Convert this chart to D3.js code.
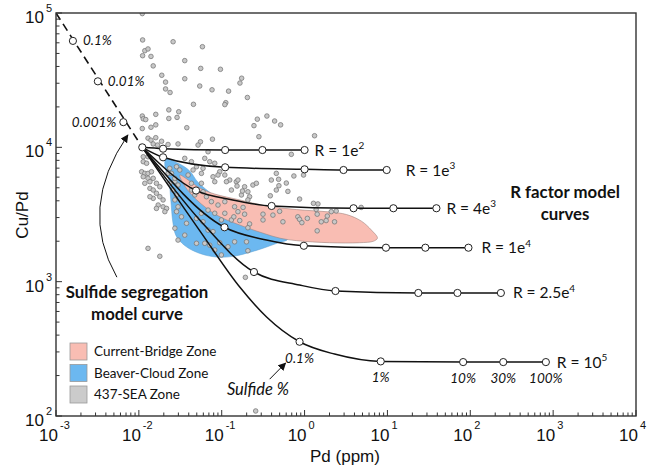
<!DOCTYPE html>
<html>
<head>
<meta charset="utf-8">
<script src="https://cdn.jsdelivr.net/npm/d3@7"></script>
<style>
body { margin: 0; background: #fff; }
text { fill: #111; }
</style>
</head>
<body>
<div id="chart"></div>
<script>
// ---- data ----
const origin = [0.011, 10000];

// sulfide segregation model (dashed part)
const segLine = [[0.001, 100000], [0.011, 10000]];
const segMarks = [[0.0016, 62000], [0.0032, 31000], [0.0065, 15400]];
const segLabels = ["0.1%", "0.01%", "0.001%"];

// R factor curves
const rBase = ["1e", "1e", "4e", "1e", "2.5e", "10"];
const rExp = ["2", "3", "3", "4", "4", "5"];
const rMarks = [
    [[0.0196, 9770], [0.11, 9550], [0.31, 9550], [1.0, 9550]],
    [[0.0196, 8430], [0.11, 7100], [1.0, 6860], [2.95, 6780], [9.8, 6780]],
    [[0.049, 4770], [0.40, 3660], [3.9, 3520], [11.8, 3520], [39, 3520]],
    [[0.108, 2540], [0.98, 1850], [9.6, 1790], [28.7, 1790], [95, 1790]],
    [[0.245, 1180], [2.36, 852], [23.6, 824], [70, 824], [234, 824]],
    [[0.87, 357], [8.3, 255], [82, 252], [250, 252], [817, 252]]
];
const rBends = [
    [],
    [],
    [[0.136, 4060]],
    [[0.346, 2040]],
    [[0.0543, 2880], [0.871, 944]],
    [[0.0569, 2300], [0.165, 912], [0.348, 546], [2.30, 289]]
];
const sulfideLabels = ["0.1%", "1%", "10%", "30%", "100%"];

// zone outlines
const currentBridge = [
    [0.0312, 6220], [0.0411, 5610], [0.0543, 4980], [0.0824, 4490], [0.165, 4060],
    [0.348, 3660], [0.801, 3440], [2.00, 3300], [3.21, 3160], [4.86, 2820],
    [6.41, 2420], [7.58, 2110], [6.78, 2000], [4.60, 1950], [2.00, 1950],
    [0.801, 2020], [0.500, 2110], [0.312, 2300], [0.165, 2640], [0.0871, 3130],
    [0.0500, 4060], [0.0358, 5150]
];
const beaverCloud = [
    [0.0212, 8190], [0.0295, 7640], [0.0411, 6670], [0.0514, 5520], [0.0824, 4340],
    [0.165, 3300], [0.330, 2590], [0.624, 2070], [0.473, 1940], [0.330, 1790],
    [0.217, 1650], [0.143, 1550], [0.0946, 1520], [0.0624, 1580], [0.0435, 1720],
    [0.0330, 1940], [0.0279, 2220], [0.0257, 2780], [0.0243, 4060], [0.0230, 5710],
    [0.0206, 7260]
];

// samples (Pd ppm, Cu/Pd)
const samples = [
    [0.011, 99000], [0.0111, 63000], [0.0259, 61100], [0.0585, 56100], [0.0118, 52400],
    [0.0129, 54000], [0.0111, 48100], [0.014, 47500], [0.0358, 44200], [0.0149, 40400],
    [0.0558, 38700], [0.0965, 38100], [0.0189, 34400], [0.0358, 32400], [0.174, 32700],
    [0.021, 30600], [0.166, 30100], [0.0543, 28600], [0.021, 27200], [0.0238, 25600],
    [0.0764, 26800], [0.121, 26200], [0.204, 23500], [0.0456, 20900], [0.112, 21500],
    [0.109, 20800], [0.023, 19000], [0.0303, 18400], [0.016, 17600], [0.011, 17100],
    [0.0113, 16300], [0.0121, 16100], [0.023, 16400], [0.0289, 16700], [0.351, 17100],
    [0.269, 16200], [0.435, 15700], [0.514, 14700], [0.245, 14500], [0.016, 14700],
    [0.014, 14100], [0.011, 13800], [0.0379, 14000], [0.281, 12000], [0.0129, 11700],
    [0.014, 11300], [0.016, 11800], [0.0188, 11100], [0.0149, 10600], [0.0168, 10400],
    [0.0225, 10500], [0.0297, 10600], [0.0554, 11000], [0.0518, 10400], [0.0773, 11500],
    [0.692, 8870], [1.32, 12200],
    [0.0113, 8510], [0.0129, 8510], [0.0113, 7820], [0.0124, 7610], [0.0108, 6580],
    [0.0118, 6400], [0.0129, 6400], [0.0142, 6580], [0.0113, 6040], [0.0129, 5880],
    [0.0149, 5880], [0.0136, 5550], [0.0118, 5400], [0.0163, 5400], [0.0179, 5090],
    [0.0136, 4950], [0.0149, 4810], [0.0163, 4550], [0.0149, 4170], [0.0179, 4290],
    [0.0196, 4060], [0.0171, 3720], [0.0196, 3610], [0.0216, 3510], [0.0206, 3320],
    [0.0129, 1770], [0.0179, 1545], [0.0136, 4290], [0.0163, 3510],
    [0.0684, 9270], [0.0358, 8280], [0.0624, 8280], [0.0431, 7820], [0.0717, 7820],
    [0.0824, 7610], [0.0496, 7170], [0.0595, 6980], [0.0946, 6580], [0.109, 6220],
    [0.125, 5710], [0.0824, 5550], [0.0569, 6400], [0.0785, 6040], [0.114, 5550],
    [0.150, 5550], [0.189, 5090], [0.238, 5240], [0.262, 5400], [0.207, 4670],
    [0.173, 4420], [0.0451, 6780], [0.0393, 6220], [0.0285, 7170], [0.0312, 6780],
    [0.0236, 6980], [0.0225, 6400], [0.0272, 5550], [0.0297, 5240], [0.0431, 5400],
    [0.0569, 5400], [0.0595, 4670], [0.0431, 4810], [0.0902, 6220], [0.157, 5710],
    [0.131, 4810], [0.486, 5780], [0.490, 5180], [0.153, 5150], [0.178, 4730],
    [0.456, 4810], [0.386, 4360], [0.629, 4700], [0.217, 4290], [0.207, 4060],
    [0.871, 4120], [1.28, 3830], [1.45, 3790], [4.82, 3570], [0.972, 6220],
    [0.743, 6120], [0.602, 5420], [0.397, 5710], [0.456, 6400],
    [0.0473, 4420], [0.0654, 4290], [0.0751, 3940], [0.0902, 3720], [0.109, 3940],
    [0.143, 3610], [0.109, 3230], [0.131, 2880], [0.157, 3320], [0.0824, 3230],
    [0.0991, 2880], [0.0684, 3410], [0.0569, 3230], [0.181, 3570], [0.189, 3180],
    [0.500, 3340], [0.315, 3180], [0.415, 3130], [0.140, 3040], [0.165, 2850],
    [0.217, 2690], [0.207, 2520], [0.315, 2880], [0.548, 2790], [0.830, 3040],
    [0.871, 2910], [1.08, 2960], [1.42, 3180], [1.59, 2790], [1.88, 3080],
    [1.82, 2850], [2.10, 3320], [2.41, 3360], [2.30, 2790], [1.42, 2390],
    [1.38, 3450], [0.928, 2750],
    [0.0248, 6400], [0.0272, 5880], [0.0236, 5400], [0.0259, 4810], [0.0285, 4420],
    [0.0272, 4060], [0.0297, 3610], [0.0285, 3320], [0.0327, 3040], [0.0376, 2720],
    [0.0272, 2500], [0.0496, 2960], [0.0595, 2790], [0.0684, 2420], [0.0297, 2040],
    [0.0358, 2220], [0.0496, 1930], [0.0624, 1930], [0.0824, 1720], [0.119, 1820],
    [0.143, 1980], [0.0991, 1580], [0.0785, 2360], [0.0946, 1950], [0.0717, 1870],
    [0.199, 1980], [0.207, 1700],
    [0.257, 109], [0.193, 1077]
];

// axes
const xTickExp = ["-3", "-2", "-1", "0", "1", "2", "3", "4"];
const yTickExp = ["2", "3", "4", "5"];

const legendNames = ["Current-Bridge Zone", "Beaver-Cloud Zone", "437-SEA Zone"];
const legendColors = ["#f9bdb3", "#6cb8f0", "#cbcbcb"];

// annotation anchors (data space)
const segArrow = [[0.00543, 1080], [0.00182, 3530], [0.00737, 12350]];
const pctArrow = [[0.379, 188], [0.590, 248]];

// ---- drawing ----
const width = 649, height = 468;
const calibri = "Lato, 'Open Sans', sans-serif";
const arial = "'Liberation Sans', Arial, sans-serif";

const x = d3.scaleLog().domain([1e-3, 1e4]).range([56, 636]);
const y = d3.scaleLog().domain([1e2, 1e5]).range([416, 13]);

const svg = d3.select("#chart")
    .append("svg")
    .attr("width", width)
    .attr("height", height);

const defs = svg.append("defs");
defs.append("marker")
    .attr("id", "head")
    .attr("viewBox", "0 0 10 10")
    .attr("refX", 9).attr("refY", 5)
    .attr("markerWidth", 8).attr("markerHeight", 8)
    .attr("markerUnits", "userSpaceOnUse")
    .attr("orient", "auto")
    .append("path")
    .attr("d", "M0,0L10,5L0,10z")
    .attr("fill", "#111");

svg.append("clipPath").attr("id", "plot")
    .append("rect")
    .attr("x", 56).attr("y", 13)
    .attr("width", 580).attr("height", 403);

const line = d3.line().x(d => x(d[0])).y(d => y(d[1]));
const smooth = d3.line().x(d => x(d[0])).y(d => y(d[1])).curve(d3.curveMonotoneX);
const blob = d3.line().x(d => x(d[0])).y(d => y(d[1])).curve(d3.curveCatmullRomClosed.alpha(0.5));

const plot = svg.append("g").attr("clip-path", "url(#plot)");

// zones
plot.append("path")
    .datum(beaverCloud)
    .attr("d", blob)
    .attr("fill", "#6cb8f0")
    .attr("stroke", "#5a9fd0")
    .attr("stroke-width", 0.5);

plot.append("path")
    .datum(currentBridge)
    .attr("d", blob)
    .attr("fill", "#f9bdb3")
    .attr("stroke", "#a08580")
    .attr("stroke-width", 0.6);

// samples
plot.append("g")
    .selectAll("circle")
    .data(samples)
    .join("circle")
    .attr("cx", d => x(d[0]))
    .attr("cy", d => y(d[1]))
    .attr("r", 2.3)
    .attr("fill", "#c8c8c8")
    .attr("stroke", "#7a7a7a")
    .attr("stroke-width", 0.8);

// R factor curves
rMarks.forEach((marks, i) => {
    const pts = [origin].concat(rBends[i], marks).sort((a, b) => a[0] - b[0]);
    plot.append("path")
        .datum(pts)
        .attr("d", smooth)
        .attr("fill", "none")
        .attr("stroke", "#111")
        .attr("stroke-width", 1.5);
});

// dashed segregation line
plot.append("path")
    .datum(segLine)
    .attr("d", line)
    .attr("fill", "none")
    .attr("stroke", "#111")
    .attr("stroke-width", 1.6)
    .attr("stroke-dasharray", "8,5");

// open markers
const allMarks = [origin].concat(segMarks, ...rMarks);
svg.append("g")
    .selectAll("circle")
    .data(allMarks)
    .join("circle")
    .attr("cx", d => x(d[0]))
    .attr("cy", d => y(d[1]))
    .attr("r", 3.6)
    .attr("fill", "#fff")
    .attr("stroke", "#222")
    .attr("stroke-width", 1);

// frame
svg.append("rect")
    .attr("x", 56).attr("y", 13)
    .attr("width", 580).attr("height", 403)
    .attr("fill", "none")
    .attr("stroke", "#333")
    .attr("stroke-width", 1.4);

// ticks (inward)
const isMajor = v => Math.abs(Math.log10(v) - Math.round(Math.log10(v))) < 1e-6;
svg.append("g")
    .selectAll("line")
    .data(x.ticks())
    .join("line")
    .attr("x1", d => x(d)).attr("x2", d => x(d))
    .attr("y1", 416).attr("y2", d => 416 - (isMajor(d) ? 6 : 3.5))
    .attr("stroke", "#333").attr("stroke-width", 1);

svg.append("g")
    .selectAll("line")
    .data(y.ticks())
    .join("line")
    .attr("y1", d => y(d)).attr("y2", d => y(d))
    .attr("x1", 56).attr("x2", d => 56 + (isMajor(d) ? 6 : 3.5))
    .attr("stroke", "#333").attr("stroke-width", 1);

// tick labels
const xt = svg.append("g").style("font-family", arial);
xTickExp.forEach(e => {
    const px = x(Math.pow(10, +e));
    xt.append("text").attr("x", px + 2).attr("y", 441)
        .attr("text-anchor", "end").style("font-size", "17px").text("10");
    xt.append("text").attr("x", px + 4).attr("y", 429)
        .style("font-size", "11px").text(e);
});
const yt = svg.append("g").style("font-family", arial);
yTickExp.forEach(e => {
    const py = y(Math.pow(10, +e));
    yt.append("text").attr("x", 44).attr("y", py + 10)
        .attr("text-anchor", "end").style("font-size", "17px").text("10");
    yt.append("text").attr("x", 46).attr("y", py - 1)
        .style("font-size", "11px").text(e);
});

// axis titles
svg.append("text")
    .attr("x", 345).attr("y", 462)
    .attr("text-anchor", "middle")
    .style("font-family", arial).style("font-size", "17px")
    .text("Pd (ppm)");
svg.append("text")
    .attr("transform", "translate(28,215) rotate(-90)")
    .attr("text-anchor", "middle")
    .style("font-family", arial).style("font-size", "17px")
    .text("Cu/Pd");

// labels on the dashed line
const segDx = [10, 10, -7];
segMarks.forEach((d, i) => {
    svg.append("text")
        .attr("x", x(d[0]) + segDx[i])
        .attr("y", y(d[1]) + 4.5)
        .attr("text-anchor", i === 2 ? "end" : "start")
        .style("font-family", calibri).style("font-style", "italic")
        .style("font-size", "13.5px")
        .text(segLabels[i]);
});

// R labels
const rGap = [10, 19, 10, 13, 12, 11];
rMarks.forEach((marks, i) => {
    const last = marks[marks.length - 1];
    const t = svg.append("text")
        .attr("x", x(last[0]) + rGap[i])
        .attr("y", y(last[1]) + 5.5)
        .style("font-family", calibri).style("font-size", "15.5px")
        .text("R = " + rBase[i]);
    t.append("tspan").attr("dy", -6.5).style("font-size", "10px").text(rExp[i]);
});

// sulfide % labels along R = 10^5
rMarks[5].forEach((d, i) => {
    svg.append("text")
        .attr("x", x(d[0]))
        .attr("y", y(d[1]) + 21)
        .attr("text-anchor", "middle")
        .style("font-family", calibri).style("font-style", "italic")
        .style("font-size", "13.5px")
        .text(sulfideLabels[i]);
});

// arrows
const curveArrow = d3.path();
curveArrow.moveTo(x(segArrow[0][0]), y(segArrow[0][1]));
curveArrow.quadraticCurveTo(x(segArrow[1][0]), y(segArrow[1][1]), x(segArrow[2][0]), y(segArrow[2][1]));
svg.append("path")
    .attr("d", curveArrow.toString())
    .attr("fill", "none").attr("stroke", "#111").attr("stroke-width", 1)
    .attr("marker-end", "url(#head)");

svg.append("path")
    .datum(pctArrow)
    .attr("d", line)
    .attr("stroke", "#111").attr("stroke-width", 1)
    .attr("marker-end", "url(#head)");

// free text
const bold = (txt, cx, cy) => svg.append("text")
    .attr("x", cx).attr("y", cy)
    .attr("text-anchor", "middle")
    .style("font-family", calibri).style("font-weight", "bold")
    .style("font-size", "16.8px")
    .text(txt);
bold("Sulfide segregation", 137, 298);
bold("model curve", 137, 320);
bold("R factor model", 565, 198);
bold("curves", 565, 220);

svg.append("text")
    .attr("x", 258).attr("y", 395)
    .attr("text-anchor", "middle")
    .style("font-family", calibri).style("font-style", "italic")
    .style("font-size", "16.5px")
    .text("Sulfide %");

// legend
const lg = svg.append("g").attr("transform", "translate(70,343)");
legendNames.forEach((name, i) => {
    lg.append("rect")
        .attr("x", 0).attr("y", i * 21.5)
        .attr("width", 17).attr("height", 17)
        .attr("fill", legendColors[i])
        .attr("stroke", "#9a9a9a").attr("stroke-width", 0.8);
    lg.append("text")
        .attr("x", 24).attr("y", i * 21.5 + 13)
        .style("font-family", calibri).style("font-size", "13.5px")
        .text(name);
});
</script>
</body>
</html>
